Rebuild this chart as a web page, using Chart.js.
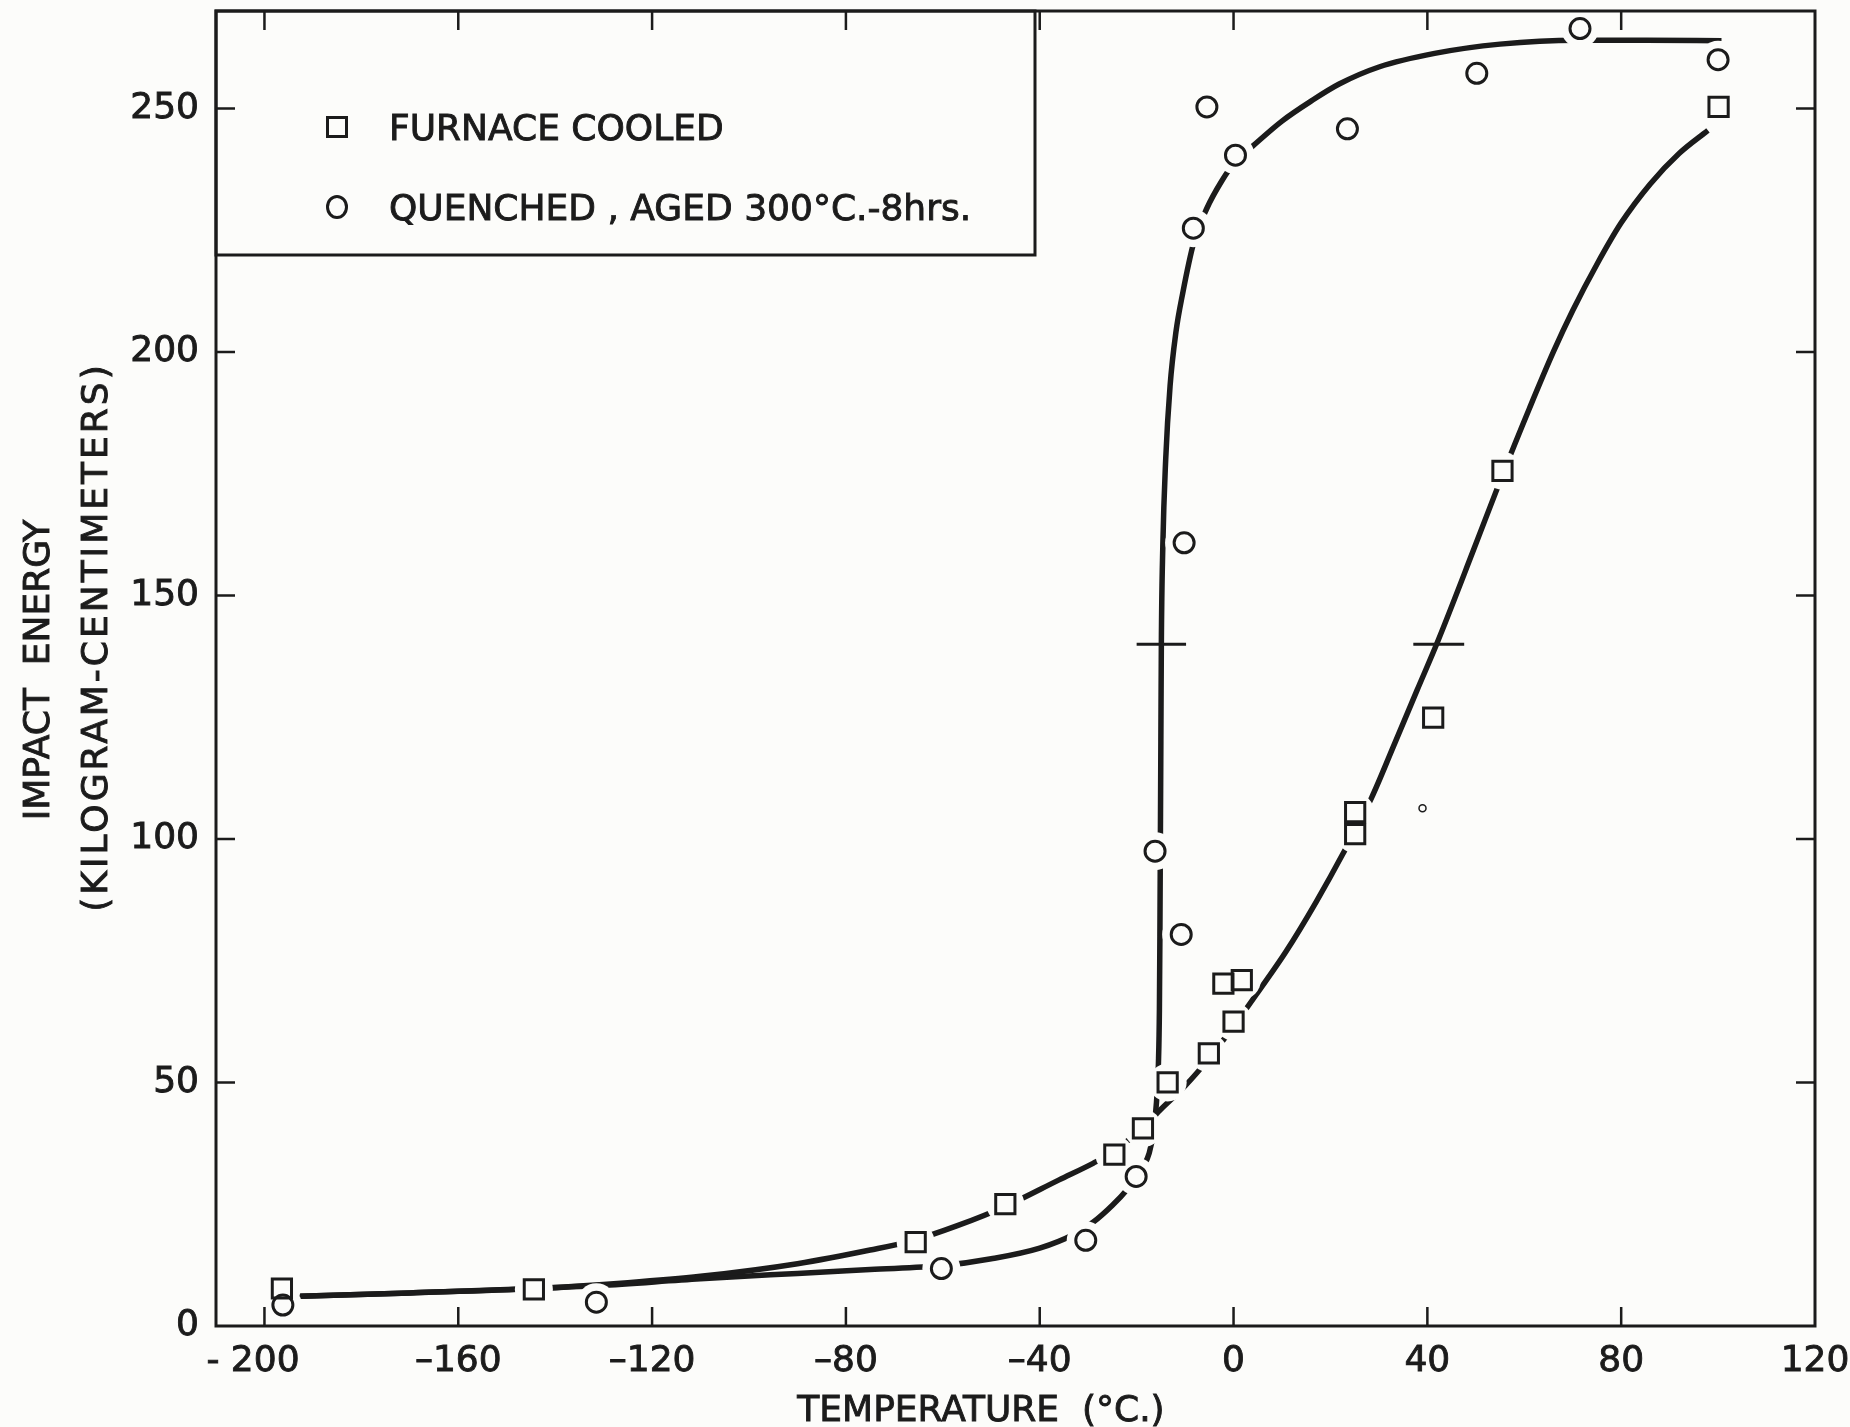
<!DOCTYPE html>
<html>
<head>
<meta charset="utf-8">
<title>Impact energy vs temperature</title>
<script src="https://cdn.jsdelivr.net/npm/chart.js@4.4.1/dist/chart.umd.min.js"></script>
<style>
  html, body { margin: 0; padding: 0; background: #fcfcfa; }
  canvas { display: block; }
</style>
</head>
<body>
<canvas id="impact" width="1850" height="1427"></canvas>
<script>
// ---- axis ticks ----
const xTickValues = [-200, -160, -120, -80, -40, 0, 40, 80, 120];
const xTickLabels = ['- 200\u00a0\u00a0', '\u2013160', '\u2013120', '\u201380', '\u201340', '0', '40', '80', '120'];
const yTickValues = [0, 50, 100, 150, 200, 250];
const yTickLabels = ['0', '50', '100', '150', '200', '250'];

// ---- measured specimens ----
// furnace cooled (squares)
const furnaceTemp   = [-196.4, -144.4, -65.6, -47.1, -24.6, -18.7, -13.6, -5.1, -2.1, 1.7, 0.0, 25.1, 25.1, 41.2, 55.5, 100.1];
const furnaceEnergy = [7.7, 7.5, 17.2, 25.0, 35.2, 40.6, 50.0, 56.0, 70.3, 71.0, 62.5, 101.0, 105.5, 124.9, 175.6, 250.3];
// quenched, aged 300 C - 8 hrs (circles)
const quenchedTemp   = [-196.2, -131.5, -60.3, -30.5, -20.1, -16.2, -10.8, -10.2, -8.3, -5.5, 0.4, 23.5, 50.2, 71.5, 100.0];
const quenchedEnergy = [4.3, 4.9, 11.8, 17.6, 30.7, 97.5, 80.4, 160.8, 225.4, 250.3, 240.4, 245.8, 257.2, 266.4, 260.0];
// small unlabeled point
const strayTemp   = [39.0];
const strayEnergy = [106.3];

// ---- hand-faired curves ----
const furnaceFitTemp = [-196.2, -170, -144, -125, -110, -90, -75, -66, -57, -47, -36, -29, -25, -22, -18.7, -15.2, -10, -5, 0, 5, 10.9, 17, 22.6, 28.5, 33, 37.9, 42.2, 49.4, 55.4, 61.1, 66, 70, 75, 80, 86, 92, 97.9];
const furnaceFitEnergy = [6.0, 6.8, 7.7, 8.9, 10.2, 12.8, 15.6, 17.6, 20.6, 24.6, 30.0, 33.4, 35.6, 37.9, 40.7, 44.3, 49.3, 55.0, 61.5, 68.5, 77.0, 87.0, 97.0, 108.5, 119.0, 130.6, 140.7, 159.0, 174.5, 188.5, 200.0, 208.5, 218.0, 226.5, 234.5, 240.8, 245.5];

const quenchedFitTemp = [-196.2, -170, -144, -131, -110, -90, -75, -60, -50, -40, -33, -29, -25, -22, -20, -18.6, -17.4, -16.5, -15.9, -15.5, -15.3, -15.2, -15.1, -15.0, -14.9, -14.6, -14.0, -13.1, -11.9, -10.5, -8.2, -5.5, -2.5, 0.3, 4, 10, 16, 21.8, 30, 41.5, 55, 71, 85, 100.7];
const quenchedFitEnergy = [6.0, 6.8, 7.7, 8.3, 9.7, 10.8, 11.6, 12.4, 13.8, 16.0, 18.8, 21.3, 24.8, 28.0, 30.7, 32.8, 35.5, 40.0, 46.0, 54.0, 65.0, 80.0, 100.0, 120.0, 140.0, 160.0, 178.0, 193.0, 204.0, 212.0, 222.5, 229.5, 235.0, 239.0, 242.3, 247.4, 251.5, 255.0, 258.5, 261.3, 263.2, 264.0, 264.0, 263.9];

// transition-temperature bars at mid-energy
const transitionEnergy = [140, 140];
const quenchedTransitionTemp = [-20.0, -9.8];
const furnaceTransitionTemp = [37.1, 47.6];

const legendLabels = ['FURNACE COOLED', 'QUENCHED , AGED 300\u00b0C.-8hrs.'];
const xTitle = 'TEMPERATURE  (\u00b0C.)';
const yTitleLines = ['IMPACT  ENERGY', '(KILOGRAM-CENTIMETERS)'];

// ---- styling ----
const INK = '#1b1b1b';
const PAPER = '#fcfcfa';
const FONT = '"DejaVu Sans", "Liberation Sans", sans-serif';
const TICK = 19;

const pts = (xs, ys) => xs.map((x, i) => ({ x, y: ys[i] }));

const curve = (xs, ys) => ({
  data: pts(xs, ys), showLine: true, pointRadius: 0, borderColor: INK,
  borderWidth: 5.5, cubicInterpolationMode: 'monotone', order: 5
});
const bar = (xs, ys) => ({
  data: pts(xs, ys), showLine: true, pointRadius: 0, borderColor: INK,
  borderWidth: 3, order: 5
});
// paper-coloured discs that open a small gap in the curves around each marker
const halo = (xs, ys) => ({
  data: pts(xs, ys), showLine: false, pointStyle: 'circle', pointRadius: 19,
  pointBackgroundColor: PAPER, pointBorderWidth: 0, pointBorderColor: PAPER, order: 3
});

const inkText = (ctx, text, x, y) => {
  ctx.lineWidth = 0.9;
  ctx.strokeText(text, x, y);
  ctx.fillText(text, x, y);
};

const decorations = {
  id: 'decorations',
  beforeDraw(chart) {
    const { ctx, width, height } = chart;
    ctx.save();
    ctx.fillStyle = PAPER;
    ctx.fillRect(0, 0, width, height);
    ctx.restore();
  },
  afterDatasetsDraw(chart) {
    const { ctx, chartArea: a, scales: { x, y } } = chart;
    ctx.save();
    ctx.strokeStyle = INK;
    ctx.fillStyle = INK;

    // frame
    ctx.lineWidth = 3;
    ctx.strokeRect(a.left, a.top, a.right - a.left, a.bottom - a.top);

    // inward tick marks on all four sides
    ctx.lineWidth = 2.5;
    ctx.beginPath();
    xTickValues.forEach(v => {
      const px = x.getPixelForValue(v);
      if (px <= a.left + 3 || px >= a.right - 3) return;
      ctx.moveTo(px, a.bottom); ctx.lineTo(px, a.bottom - TICK);
      ctx.moveTo(px, a.top); ctx.lineTo(px, a.top + TICK);
    });
    yTickValues.forEach(v => {
      const py = y.getPixelForValue(v);
      if (py >= a.bottom - 3 || py <= a.top + 3) return;
      ctx.moveTo(a.left, py); ctx.lineTo(a.left + TICK, py);
      ctx.moveTo(a.right, py); ctx.lineTo(a.right - TICK, py);
    });
    ctx.stroke();

    // legend box in the upper-left corner
    const lw = 819, lh = 244;
    ctx.lineWidth = 3;
    ctx.strokeRect(a.left, a.top, lw, lh);
    const mx = a.left + 121, tx = a.left + 173;
    const rows = [a.top + 116, a.top + 196];
    ctx.lineWidth = 3;
    ctx.strokeRect(mx - 9.5, rows[0] - 9.5, 19, 19);
    ctx.beginPath();
    ctx.ellipse(mx, rows[1], 9.5, 10.5, 0, 0, Math.PI * 2);
    ctx.stroke();
    ctx.font = '36px ' + FONT;
    ctx.textAlign = 'left';
    ctx.textBaseline = 'alphabetic';
    inkText(ctx, legendLabels[0], tx, rows[0] + 13);
    inkText(ctx, legendLabels[1], tx, rows[1] + 13);

    // axis titles
    ctx.textAlign = 'center';
    inkText(ctx, xTitle, 981, 1421);

    ctx.save();
    ctx.translate(49, 670);
    ctx.rotate(-Math.PI / 2);
    inkText(ctx, yTitleLines[0], 0, 0);
    ctx.restore();

    ctx.save();
    ctx.translate(107, 637);
    ctx.rotate(-Math.PI / 2);
    if ('letterSpacing' in ctx) ctx.letterSpacing = '3px';
    inkText(ctx, yTitleLines[1], 0, 0);
    ctx.restore();

    ctx.restore();
  }
};

new Chart(document.getElementById('impact'), {
  type: 'scatter',
  data: {
    datasets: [
      curve(furnaceFitTemp, furnaceFitEnergy),
      curve(quenchedFitTemp, quenchedFitEnergy),
      bar(quenchedTransitionTemp, transitionEnergy),
      bar(furnaceTransitionTemp, transitionEnergy),
      halo(furnaceTemp, furnaceEnergy),
      halo(quenchedTemp, quenchedEnergy),
      {
        label: legendLabels[0], data: pts(furnaceTemp, furnaceEnergy), pointStyle: 'rect',
        pointRadius: 13.6, pointBorderWidth: 3, pointBorderColor: INK,
        pointBackgroundColor: 'rgba(0,0,0,0)', order: 1
      },
      {
        label: legendLabels[1], data: pts(quenchedTemp, quenchedEnergy), pointStyle: 'circle',
        pointRadius: 10, pointBorderWidth: 3, pointBorderColor: INK,
        pointBackgroundColor: 'rgba(0,0,0,0)', order: 1
      },
      {
        data: pts(strayTemp, strayEnergy), pointStyle: 'circle', pointRadius: 3.5,
        pointBorderWidth: 1.5, pointBorderColor: INK, pointBackgroundColor: 'rgba(0,0,0,0)', order: 1
      }
    ]
  },
  options: {
    responsive: false,
    animation: false,
    devicePixelRatio: 1,
    events: [],
    layout: { autoPadding: false, padding: 0 },
    plugins: { legend: { display: false }, tooltip: { enabled: false }, title: { display: false } },
    scales: {
      x: {
        type: 'linear', position: 'bottom', min: -210, max: 120,
        afterBuildTicks: s => { s.ticks = xTickValues.map(v => ({ value: v })); },
        afterFit: s => { s.height = 101; s.paddingLeft = 0; s.paddingRight = 35; },
        grid: { display: false, drawTicks: false },
        border: { display: false },
        ticks: {
          autoSkip: false, maxRotation: 0, padding: 14, color: INK,
          textStrokeColor: INK, textStrokeWidth: 0.9,
          font: { family: FONT, size: 36 },
          callback: (v, i) => xTickLabels[i]
        }
      },
      y: {
        type: 'linear', position: 'left', min: 0, max: 270,
        afterBuildTicks: s => { s.ticks = yTickValues.map(v => ({ value: v })); },
        afterFit: s => { s.width = 216; s.paddingTop = 11; s.paddingBottom = 0; },
        grid: { display: false, drawTicks: false },
        border: { display: false },
        ticks: {
          autoSkip: false, padding: 17, color: INK,
          textStrokeColor: INK, textStrokeWidth: 0.9,
          font: { family: FONT, size: 36 },
          callback: (v, i) => yTickLabels[i]
        }
      }
    }
  },
  plugins: [decorations]
});
</script>
</body>
</html>
